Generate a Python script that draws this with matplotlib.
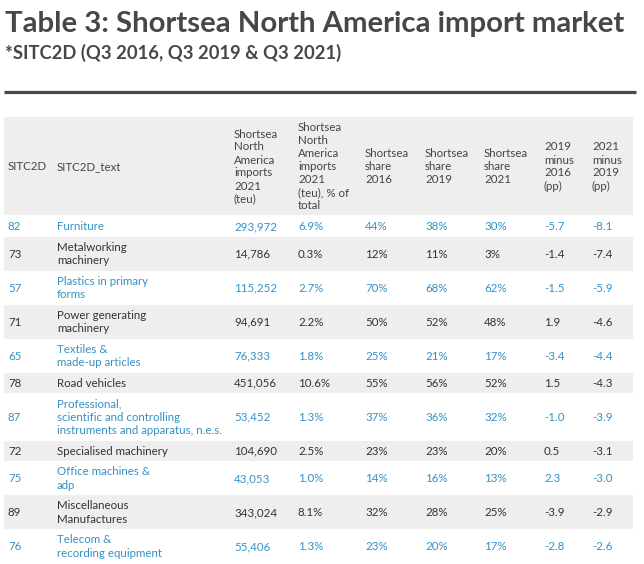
import matplotlib
matplotlib.use("Agg")
import matplotlib.pyplot as plt
from matplotlib.patches import Rectangle

# table data
codes = [82, 73, 57, 71, 65, 78, 87, 72, 75, 89, 76]
names = ["Furniture",
         "Metalworking\nmachinery",
         "Plastics in primary\nforms",
         "Power generating\nmachinery",
         "Textiles &\nmade-up articles",
         "Road vehicles",
         "Professional,\nscientific and controlling\ninstruments and apparatus, n.e.s.",
         "Specialised machinery",
         "Office machines &\nadp",
         "Miscellaneous\nManufactures",
         "Telecom &\nrecording equipment"]
imports_2021 = [293972, 14786, 115252, 94691, 76333, 451056, 53452, 104690, 43053, 343024, 55406]
pct_total = [6.9, 0.3, 2.7, 2.2, 1.8, 10.6, 1.3, 2.5, 1.0, 8.1, 1.3]
share_2016 = [44, 12, 70, 50, 25, 55, 37, 23, 14, 32, 23]
share_2019 = [38, 11, 68, 52, 21, 56, 36, 23, 16, 28, 20]
share_2021 = [30, 3, 62, 48, 17, 52, 32, 20, 13, 25, 17]
diff_19_16 = [-5.7, -1.4, -1.5, 1.9, -3.4, 1.5, -1.0, 0.5, 2.3, -3.9, -2.8]
diff_21_19 = [-8.1, -7.4, -5.9, -4.6, -4.4, -4.3, -3.9, -3.1, -3.0, -2.9, -2.6]

headers = ["SITC2D", "SITC2D_text",
           "Shortsea\nNorth\nAmerica\nimports\n2021\n(teu)",
           "Shortsea\nNorth\nAmerica\nimports\n2021\n(teu), % of\ntotal",
           "Shortsea\nshare\n2016", "Shortsea\nshare\n2019", "Shortsea\nshare\n2021",
           "2019\nminus\n2016\n(pp)", "2021\nminus\n2019\n(pp)"]

title = "Table 3: Shortsea North America import market"
subtitle = "*SITC2D (Q3 2016, Q3 2019 & Q3 2021)"

# layout (pixels)
col_x = [8, 57, 234, 298, 365, 425, 484, 544, 592]
tbl_left, tbl_right = 4, 633
head_top, head_h = 117, 98
line_h = 13.5
pad = 7

blue = "#3591c2"
dark = "#333333"
gray_bg = "#eeeeee"
font = "Lato"

fig = plt.figure(figsize=(6.44, 5.64), dpi=100)
ax = fig.add_axes([0, 0, 1, 1])
ax.set_xlim(0, 644)
ax.set_ylim(564, 0)
ax.axis("off")


def fit_text(x, y, txt, width, size):
    # shrink a heading so it spans the same width as in the reference
    t = ax.text(x, y, txt, fontsize=size, fontweight="bold", family=font,
                color="#474747", va="baseline")
    r = fig.canvas.get_renderer()
    w = t.get_window_extent(renderer=r).width
    t.set_fontsize(size * width / w)
    return t


fit_text(5, 32, title, 622, 24)
fit_text(5, 59, subtitle, 336, 14)
ax.plot([4, 636], [92, 92], color="#4a4a4a", lw=2.3, solid_capstyle="butt")


def draw_cell(x, yc, txt, color, spacing):
    lines = txt.split("\n")
    n = len(lines)
    for i, ln in enumerate(lines):
        y = yc + (i - (n - 1) / 2) * spacing + 4
        ax.text(x, y, ln, fontsize=8.3, family=font, color=color, va="baseline")


# header
ax.add_patch(Rectangle((tbl_left, head_top), tbl_right - tbl_left, head_h,
                       facecolor=gray_bg, edgecolor="none"))
for x, h in zip(col_x, headers):
    draw_cell(x, head_top + head_h / 2, h, "#444444", 13)

# body rows
y = head_top + head_h + 1
for i in range(len(codes)):
    nl = names[i].count("\n") + 1
    h = pad + line_h * nl
    if i % 2 == 1:
        ax.add_patch(Rectangle((tbl_left, y), tbl_right - tbl_left, h,
                               facecolor=gray_bg, edgecolor="none"))
        c = dark
    else:
        c = blue
    vals = [str(codes[i]), names[i], f"{imports_2021[i]:,}", f"{pct_total[i]:.1f}%",
            f"{share_2016[i]}%", f"{share_2019[i]}%", f"{share_2021[i]}%",
            f"{diff_19_16[i]:.1f}", f"{diff_21_19[i]:.1f}"]
    for x, v in zip(col_x, vals):
        draw_cell(x, y + h / 2, v, c, line_h)
    y += h

fig.savefig("out.png", dpi=100, facecolor="white")
